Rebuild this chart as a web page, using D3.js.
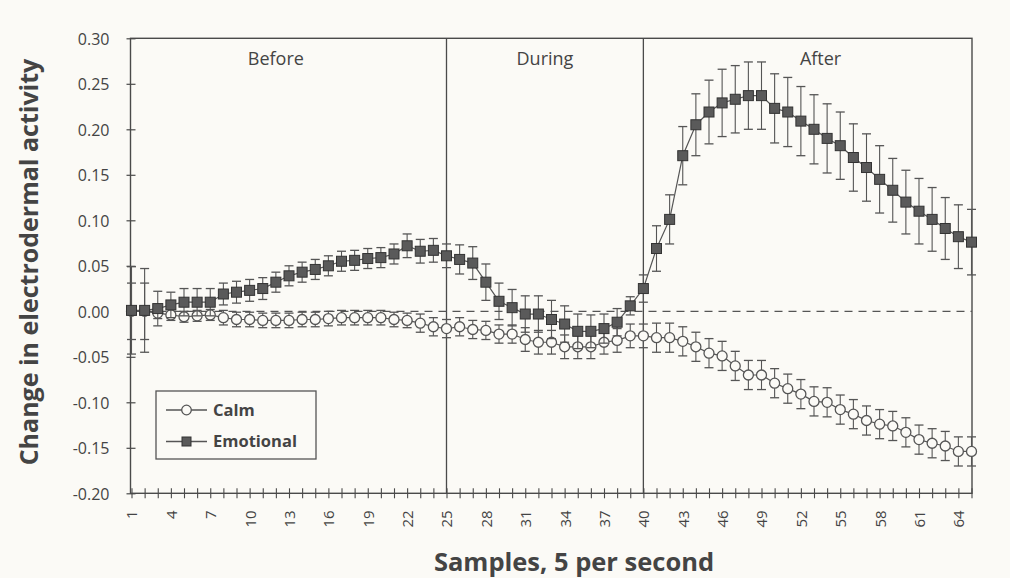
<!DOCTYPE html>
<html>
<head>
<meta charset="utf-8">
<script src="https://cdn.jsdelivr.net/npm/d3@7"></script>
<style>
  html, body { margin: 0; padding: 0; background: #fbfaf6; }
  svg { display: block; }
  text { font-family: "Open Sans", "Noto Sans", sans-serif; fill: #444; }
</style>
</head>
<body>
<svg id="chart" width="1010" height="578"></svg>
<script>
// ---- data ----
const samples = d3.range(1, 66); // 1..65
const emotional = [
  0.001, 0.001, 0.003, 0.007, 0.010, 0.010, 0.010, 0.019, 0.021, 0.023,
  0.025, 0.032, 0.039, 0.043, 0.046, 0.050, 0.055, 0.056, 0.058, 0.059,
  0.063, 0.072, 0.066, 0.067, 0.061, 0.057, 0.053, 0.032, 0.011, 0.004,
  -0.003, -0.003, -0.009, -0.014, -0.022, -0.022, -0.019, -0.012, 0.006, 0.025,
  0.069, 0.101, 0.171, 0.205, 0.219, 0.229, 0.233, 0.237, 0.237, 0.223,
  0.219, 0.209, 0.200, 0.190, 0.182, 0.169, 0.158, 0.145, 0.133, 0.120,
  0.110, 0.101, 0.091, 0.082, 0.076
];
const emotionalErr = [
  0.048, 0.046, 0.019, 0.014, 0.015, 0.015, 0.015, 0.012, 0.012, 0.012,
  0.012, 0.011, 0.011, 0.011, 0.011, 0.011, 0.011, 0.011, 0.011, 0.011,
  0.011, 0.013, 0.013, 0.013, 0.013, 0.016, 0.018, 0.020, 0.020, 0.020,
  0.020, 0.020, 0.021, 0.020, 0.019, 0.018, 0.016, 0.015, 0.010, 0.015,
  0.025, 0.027, 0.032, 0.034, 0.035, 0.037, 0.037, 0.037, 0.037, 0.038,
  0.038, 0.038, 0.038, 0.038, 0.037, 0.037, 0.037, 0.037, 0.035, 0.035,
  0.036, 0.035, 0.034, 0.035, 0.036
];
const calm = [
  0.000, 0.000, -0.002, -0.004, -0.006, -0.005, -0.004, -0.007, -0.009, -0.009,
  -0.010, -0.010, -0.010, -0.009, -0.009, -0.008, -0.007, -0.007, -0.007, -0.007,
  -0.009, -0.010, -0.013, -0.017, -0.019, -0.017, -0.020, -0.021, -0.025, -0.025,
  -0.031, -0.034, -0.034, -0.039, -0.039, -0.039, -0.034, -0.032, -0.027, -0.027,
  -0.029, -0.029, -0.033, -0.039, -0.046, -0.049, -0.060, -0.070, -0.070, -0.079,
  -0.085, -0.091, -0.099, -0.100, -0.108, -0.113, -0.120, -0.124, -0.126, -0.133,
  -0.141, -0.145, -0.148, -0.154, -0.154
];
const calmErr = [
  0.031, 0.031, 0.006, 0.006, 0.006, 0.006, 0.006, 0.008, 0.008, 0.008,
  0.008, 0.008, 0.008, 0.008, 0.008, 0.008, 0.008, 0.008, 0.008, 0.008,
  0.008, 0.008, 0.010, 0.010, 0.010, 0.010, 0.010, 0.010, 0.010, 0.010,
  0.013, 0.013, 0.013, 0.013, 0.013, 0.013, 0.013, 0.013, 0.013, 0.013,
  0.016, 0.016, 0.016, 0.016, 0.016, 0.016, 0.016, 0.016, 0.016, 0.016,
  0.016, 0.016, 0.016, 0.016, 0.016, 0.016, 0.016, 0.016, 0.016, 0.016,
  0.016, 0.016, 0.016, 0.016, 0.016
];
const xTickLabels = [1, 4, 7, 10, 13, 16, 19, 22, 25, 28, 31, 34, 37, 40, 43, 46, 49, 52, 55, 58, 61, 64];
const yTicks = [-0.20, -0.15, -0.10, -0.05, 0.00, 0.05, 0.10, 0.15, 0.20, 0.25, 0.30];
const phaseBounds = [25, 40];
const phaseLabels = ["Before", "During", "After"];
const phaseLabelAt = [12, 32.5, 53.5]; // sample position of each phase label
const seriesNames = ["Calm", "Emotional"];

// ---- layout ----
const svg = d3.select("#chart");
const pLeft = 130.5, pRight = 972, pTop = 38.3, pBottom = 493.3;
const x = d3.scaleLinear().domain([1, 65]).range([131.5, 971.5]);
const y = d3.scaleLinear().domain([-0.2, 0.3]).range([pBottom, pTop]);
const ink = "#4a4a4a";

// frame
svg.append("rect")
  .attr("x", pLeft).attr("y", pTop)
  .attr("width", pRight - pLeft).attr("height", pBottom - pTop)
  .attr("fill", "none").attr("stroke", ink).attr("stroke-width", 1.4);

// phase separators
svg.selectAll("line.phase").data(phaseBounds).join("line")
  .attr("class", "phase")
  .attr("x1", d => x(d)).attr("x2", d => x(d))
  .attr("y1", pTop).attr("y2", pBottom)
  .attr("stroke", ink).attr("stroke-width", 1.3);

// phase labels
svg.selectAll("text.phase").data(phaseLabels).join("text")
  .attr("class", "phase")
  .attr("x", (d, i) => x(phaseLabelAt[i]))
  .attr("y", 65)
  .attr("text-anchor", "middle")
  .style("font-size", "18px")
  .text(d => d);

// zero dashed line
svg.append("line")
  .attr("x1", pLeft).attr("x2", pRight)
  .attr("y1", y(0)).attr("y2", y(0))
  .attr("stroke", "#555").attr("stroke-width", 1.2)
  .attr("stroke-dasharray", "8,6");

// y axis
const yAxis = svg.append("g").attr("transform", `translate(${pLeft},0)`)
  .call(d3.axisLeft(y).tickValues(yTicks).tickSizeOuter(0).tickSizeInner(4)
    .tickFormat(d => d.toFixed(2)).tickPadding(0));
yAxis.select(".domain").remove();
yAxis.selectAll(".tick line").attr("x1", -4).attr("x2", 5).attr("stroke", ink).attr("stroke-width", 1.2);
yAxis.selectAll(".tick text").attr("x", -21).attr("dy", "0.36em").style("font-size", "16px").style("fill", "#444")
  .style("font-family", "'Open Sans', sans-serif");

// x axis
const xAxis = svg.append("g").attr("transform", `translate(0,${pBottom})`)
  .call(d3.axisBottom(x).tickValues(samples).tickSizeOuter(0).tickSizeInner(5)
    .tickFormat(d => xTickLabels.includes(d) ? String(d) : ""));
xAxis.select(".domain").remove();
xAxis.selectAll(".tick line").attr("y1", -5).attr("y2", 5).attr("stroke", ink).attr("stroke-width", 1.1);
xAxis.selectAll(".tick text")
  .attr("transform", "rotate(-90)")
  .attr("x", -17).attr("y", 0).attr("dy", "0.36em")
  .attr("text-anchor", "end")
  .style("font-size", "15px").style("fill", "#444")
  .style("font-family", "'Open Sans', sans-serif");

// axis titles
svg.append("text")
  .attr("x", 574).attr("y", 570.5)
  .attr("text-anchor", "middle")
  .style("font-size", "25.5px").style("font-weight", "bold")
  .text("Samples, 5 per second");
svg.append("text")
  .attr("transform", `translate(38,262) rotate(-90)`)
  .attr("text-anchor", "middle")
  .style("font-size", "25px").style("font-weight", "bold")
  .text("Change in electrodermal activity");

// series
function drawSeries(vals, errs, kind) {
  const data = samples.map((s, i) => ({ s, v: vals[i], e: errs[i] }));
  const g = svg.append("g");
  const eb = g.selectAll("g.err").data(data).join("g").attr("class", "err");
  eb.append("line")
    .attr("x1", d => x(d.s)).attr("x2", d => x(d.s))
    .attr("y1", d => y(d.v - d.e)).attr("y2", d => y(d.v + d.e))
    .attr("stroke", "#555").attr("stroke-width", 1.1);
  eb.append("line")
    .attr("x1", d => x(d.s) - 4.5).attr("x2", d => x(d.s) + 4.5)
    .attr("y1", d => y(d.v + d.e)).attr("y2", d => y(d.v + d.e))
    .attr("stroke", "#555").attr("stroke-width", 1.3);
  eb.append("line")
    .attr("x1", d => x(d.s) - 4.5).attr("x2", d => x(d.s) + 4.5)
    .attr("y1", d => y(d.v - d.e)).attr("y2", d => y(d.v - d.e))
    .attr("stroke", "#555").attr("stroke-width", 1.3);
  g.append("path").datum(data)
    .attr("fill", "none").attr("stroke", "#555").attr("stroke-width", 1.2)
    .attr("d", d3.line().x(d => x(d.s)).y(d => y(d.v)));
  if (kind === "circle") {
    g.selectAll("circle").data(data).join("circle")
      .attr("cx", d => x(d.s)).attr("cy", d => y(d.v)).attr("r", 5)
      .attr("fill", "#fbfaf6").attr("stroke", "#555").attr("stroke-width", 1.3);
  } else {
    g.selectAll("rect").data(data).join("rect")
      .attr("x", d => x(d.s) - 5).attr("y", d => y(d.v) - 5)
      .attr("width", 10).attr("height", 10)
      .attr("fill", "#5a5a5a").attr("stroke", "#333").attr("stroke-width", 1);
  }
}
drawSeries(calm, calmErr, "circle");
drawSeries(emotional, emotionalErr, "square");

// legend
const lg = svg.append("g");
lg.append("rect").attr("x", 156).attr("y", 391).attr("width", 160).attr("height", 68)
  .attr("fill", "#fbfaf6").attr("stroke", "#555").attr("stroke-width", 1.3);
const items = [{ name: seriesNames[0], yy: 410, kind: "circle" }, { name: seriesNames[1], yy: 441.5, kind: "square" }];
items.forEach(it => {
  lg.append("line").attr("x1", 166).attr("x2", 207).attr("y1", it.yy).attr("y2", it.yy)
    .attr("stroke", "#555").attr("stroke-width", 1.3);
  if (it.kind === "circle") {
    lg.append("circle").attr("cx", 186.5).attr("cy", it.yy).attr("r", 4.8)
      .attr("fill", "#fbfaf6").attr("stroke", "#555").attr("stroke-width", 1.3);
  } else {
    lg.append("rect").attr("x", 182).attr("y", it.yy - 4.5).attr("width", 9).attr("height", 9)
      .attr("fill", "#5a5a5a").attr("stroke", "#333");
  }
  lg.append("text").attr("x", 213).attr("y", it.yy).attr("dy", "0.36em")
    .style("font-size", "16.5px").style("font-weight", "bold")
    .text(it.name);
});
</script>
</body>
</html>
